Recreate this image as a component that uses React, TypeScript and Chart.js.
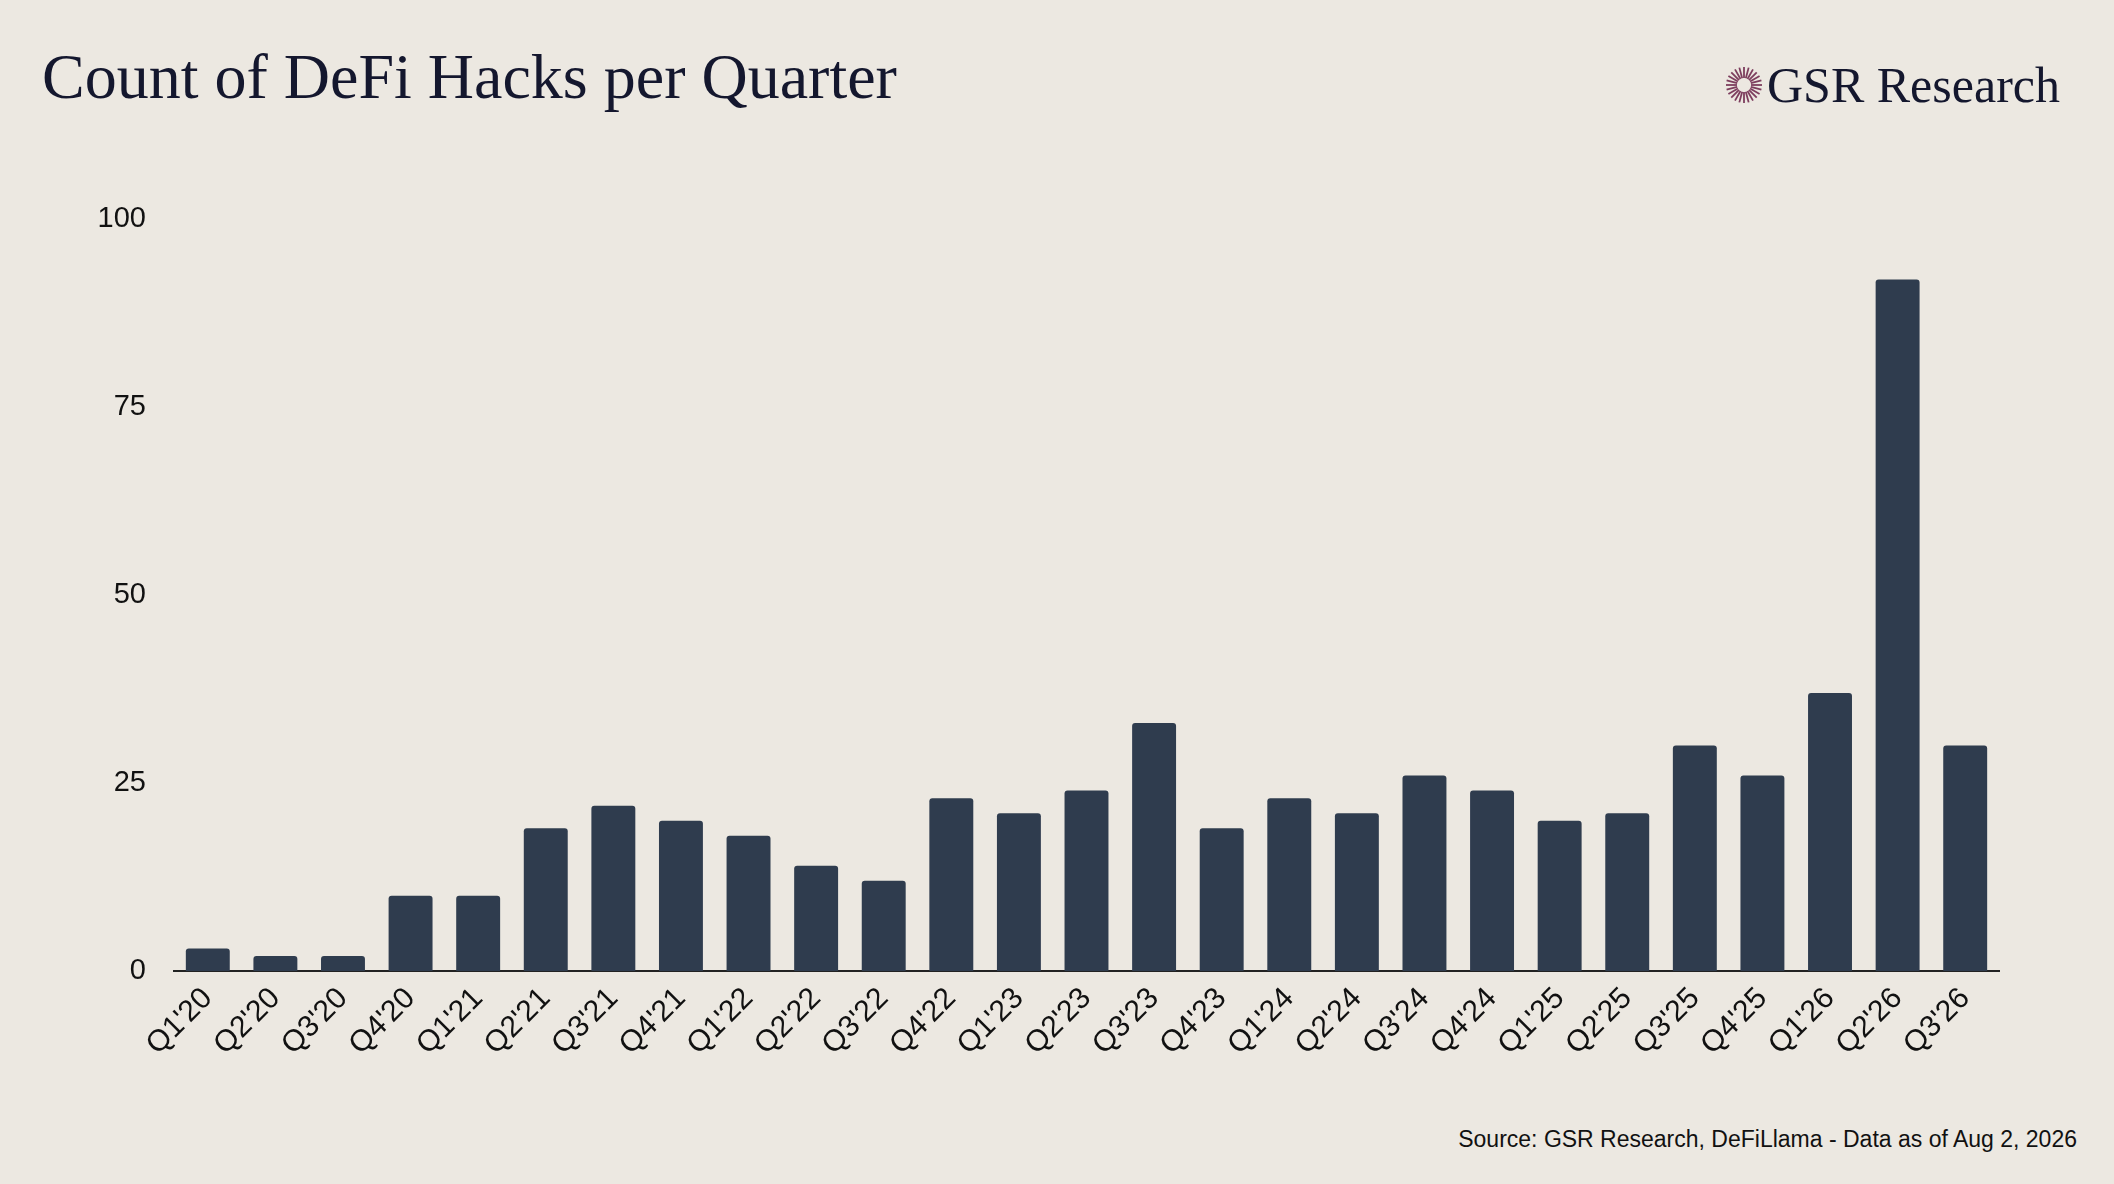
import React, { useEffect, useRef } from "react";
import { Chart, registerables } from "chart.js";
Chart.register(...registerables);

const categories = ["Q1'20","Q2'20","Q3'20","Q4'20","Q1'21","Q2'21","Q3'21","Q4'21","Q1'22","Q2'22","Q3'22","Q4'22","Q1'23","Q2'23","Q3'23","Q4'23","Q1'24","Q2'24","Q3'24","Q4'24","Q1'25","Q2'25","Q3'25","Q4'25","Q1'26","Q2'26","Q3'26"];
const hacks = [3,2,2,10,10,19,22,20,18,14,12,23,21,24,33,19,23,21,26,24,20,21,30,26,37,92,30];
const yTicks = [0,25,50,75,100];

function Sunburst() {
  const lines = [];
  for (let i = 0; i < 24; i++) {
    const a = (i / 24) * Math.PI * 2;
    lines.push(<line key={i} x1={20 + Math.cos(a) * 7} y1={20 + Math.sin(a) * 7} x2={20 + Math.cos(a) * 18} y2={20 + Math.sin(a) * 18} stroke="#7d3e5e" strokeWidth={1.8} />);
  }
  return <svg width={40} height={40} viewBox="0 0 40 40">{lines}</svg>;
}

export default function App() {
  const ref = useRef<HTMLCanvasElement>(null);
  useEffect(() => {
    document.body.style.margin = "0";
    const chart = new Chart(ref.current!, {
      type: "bar",
      data: { labels: categories, datasets: [{ data: hacks, backgroundColor: "#2f3c4e", borderRadius: 3, borderSkipped: "bottom", categoryPercentage: 1, barPercentage: 0.65 }] },
      options: {
        animation: false, responsive: false,
        layout: { padding: { top: 32, right: 115, left: 0, bottom: 0 } },
        plugins: { legend: { display: false }, tooltip: { enabled: false } },
        scales: {
          x: {
            grid: { display: false, drawTicks: false },
            border: { display: true, color: "#222", width: 2 },
            ticks: { color: "#111", font: { family: "Liberation Sans, Arial", size: 30 }, maxRotation: 45, minRotation: 45, padding: 10 },
            afterFit: (s: any) => { s.height = 120; },
          },
          y: {
            min: 0, max: 100,
            afterBuildTicks: (s: any) => { s.ticks = yTicks.map((v) => ({ value: v })); },
            grid: { display: false, drawTicks: false },
            border: { display: false },
            ticks: { color: "#111", font: { family: "Liberation Sans, Arial", size: 29 }, padding: 28 },
            afterFit: (s: any) => { s.width = 174; },
          },
        },
      },
    });
    return () => chart.destroy();
  }, []);
  return (
    <div style={{ position: "relative", width: 2114, height: 1184, background: "#ece8e1", overflow: "hidden" }}>
      <div style={{ position: "absolute", left: 42, top: 40, fontFamily: "Liberation Serif, serif", fontSize: 64, color: "#14172e" }}>Count of DeFi Hacks per Quarter</div>
      <div style={{ position: "absolute", left: 1724, top: 56, display: "flex", alignItems: "center" }}>
        <Sunburst />
        <span style={{ fontFamily: "Liberation Serif, serif", fontSize: 50, color: "#14172e", marginLeft: 3 }}>GSR Research</span>
      </div>
      <canvas ref={ref} width={2114} height={917} style={{ position: "absolute", left: 0, top: 174 }} />
      <div style={{ position: "absolute", right: 37, top: 1126, fontFamily: "Liberation Sans, Arial", fontSize: 23, color: "#111" }}>Source: GSR Research, DeFiLlama - Data as of Aug 2, 2026</div>
    </div>
  );
}
